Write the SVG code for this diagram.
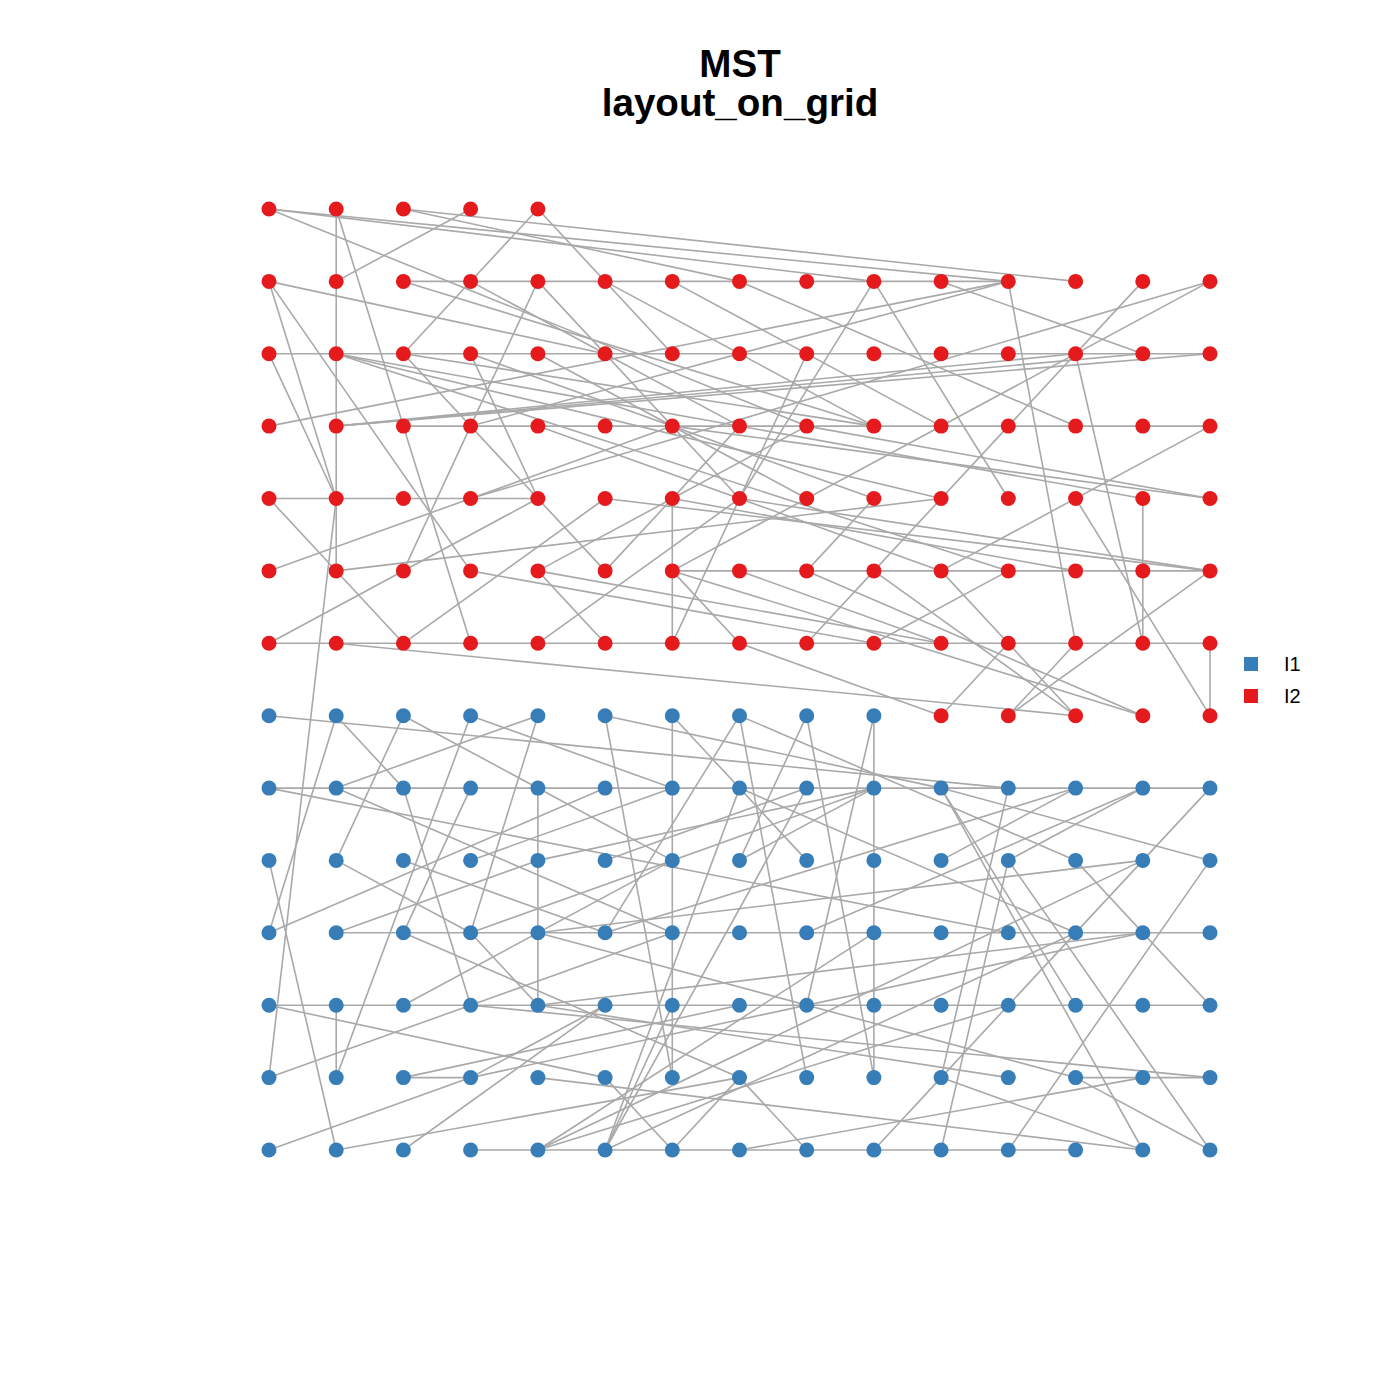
<svg xmlns="http://www.w3.org/2000/svg" width="1400" height="1400" viewBox="0 0 1400 1400">
<style>
.e line{stroke:#A9A9A9;stroke-width:1.6;fill:none}
.r{fill:#E41A1C}
.b{fill:#377EB8}
.t{font-family:"Liberation Sans",Arial,sans-serif;font-weight:bold;font-size:38.6px;text-anchor:middle;fill:#000}
.l{font-family:"Liberation Sans",Arial,sans-serif;font-size:20px;fill:#000}
</style>
<rect width="1400" height="1400" fill="#fff"/>
<text class="t" x="740" y="77">MST</text>
<text class="t" x="740" y="116">layout_on_grid</text>
<g class="e" id="edges">
<line x1="403.4" y1="281.4" x2="1008.3" y2="281.4"/>
<line x1="269" y1="353.8" x2="1210" y2="353.8"/>
<line x1="403.4" y1="426.1" x2="1210" y2="426.1"/>
<line x1="269" y1="498.5" x2="537.9" y2="498.5"/>
<line x1="672.3" y1="570.9" x2="1210" y2="570.9"/>
<line x1="269" y1="643.3" x2="1210" y2="643.3"/>
<line x1="269" y1="788.1" x2="1210" y2="788.1"/>
<line x1="336.2" y1="932.8" x2="1210" y2="932.8"/>
<line x1="269" y1="1005.2" x2="1210" y2="1005.2"/>
<line x1="470.6" y1="1150" x2="1075.6" y2="1150"/>
<line x1="403.4" y1="1077.6" x2="470.6" y2="1077.6"/>
<line x1="1075.6" y1="1077.6" x2="1210" y2="1077.6"/>
<line x1="269" y1="209" x2="873.9" y2="281.4"/>
<line x1="269" y1="209" x2="1008.3" y2="281.4"/>
<line x1="269" y1="209" x2="806.7" y2="426.1"/>
<line x1="403.4" y1="209" x2="1075.6" y2="281.4"/>
<line x1="403.4" y1="209" x2="739.5" y2="281.4"/>
<line x1="336.2" y1="209" x2="336.2" y2="570.9"/>
<line x1="336.2" y1="209" x2="470.6" y2="643.3"/>
<line x1="470.6" y1="209" x2="336.2" y2="281.4"/>
<line x1="537.9" y1="209" x2="403.4" y2="353.8"/>
<line x1="537.9" y1="209" x2="672.3" y2="353.8"/>
<line x1="269" y1="281.4" x2="336.2" y2="498.5"/>
<line x1="269" y1="281.4" x2="605.1" y2="353.8"/>
<line x1="269" y1="281.4" x2="470.6" y2="570.9"/>
<line x1="403.4" y1="281.4" x2="873.9" y2="426.1"/>
<line x1="470.6" y1="281.4" x2="739.5" y2="426.1"/>
<line x1="537.9" y1="281.4" x2="470.6" y2="426.1"/>
<line x1="537.9" y1="281.4" x2="739.5" y2="498.5"/>
<line x1="605.1" y1="281.4" x2="873.9" y2="426.1"/>
<line x1="672.3" y1="281.4" x2="941.1" y2="426.1"/>
<line x1="739.5" y1="281.4" x2="1075.6" y2="426.1"/>
<line x1="873.9" y1="281.4" x2="1008.3" y2="498.5"/>
<line x1="873.9" y1="281.4" x2="739.5" y2="498.5"/>
<line x1="941.1" y1="281.4" x2="1142.8" y2="353.8"/>
<line x1="1008.3" y1="281.4" x2="269" y2="426.1"/>
<line x1="1008.3" y1="281.4" x2="1075.6" y2="643.3"/>
<line x1="1075.6" y1="353.8" x2="1142.8" y2="643.3"/>
<line x1="1142.8" y1="281.4" x2="873.9" y2="570.9"/>
<line x1="1210" y1="281.4" x2="672.3" y2="570.9"/>
<line x1="1210" y1="281.4" x2="470.6" y2="498.5"/>
<line x1="269" y1="353.8" x2="336.2" y2="498.5"/>
<line x1="336.2" y1="426.1" x2="1075.6" y2="353.8"/>
<line x1="336.2" y1="426.1" x2="1142.8" y2="353.8"/>
<line x1="336.2" y1="426.1" x2="1210" y2="353.8"/>
<line x1="470.6" y1="426.1" x2="1008.3" y2="281.4"/>
<line x1="470.6" y1="426.1" x2="403.4" y2="570.9"/>
<line x1="269" y1="570.9" x2="672.3" y2="426.1"/>
<line x1="336.2" y1="570.9" x2="941.1" y2="498.5"/>
<line x1="269" y1="498.5" x2="403.4" y2="643.3"/>
<line x1="269" y1="643.3" x2="537.9" y2="498.5"/>
<line x1="403.4" y1="643.3" x2="605.1" y2="498.5"/>
<line x1="537.9" y1="643.3" x2="739.5" y2="498.5"/>
<line x1="470.6" y1="570.9" x2="873.9" y2="643.3"/>
<line x1="537.9" y1="570.9" x2="941.1" y2="643.3"/>
<line x1="537.9" y1="570.9" x2="806.7" y2="426.1"/>
<line x1="470.6" y1="353.8" x2="537.9" y2="498.5"/>
<line x1="403.4" y1="353.8" x2="605.1" y2="570.9"/>
<line x1="1210" y1="426.1" x2="941.1" y2="570.9"/>
<line x1="1075.6" y1="498.5" x2="1210" y2="715.7"/>
<line x1="1142.8" y1="498.5" x2="1142.8" y2="643.3"/>
<line x1="1210" y1="570.9" x2="1008.3" y2="715.7"/>
<line x1="1210" y1="643.3" x2="1210" y2="715.7"/>
<line x1="1008.3" y1="570.9" x2="873.9" y2="643.3"/>
<line x1="336.2" y1="643.3" x2="1075.6" y2="715.7"/>
<line x1="739.5" y1="643.3" x2="941.1" y2="715.7"/>
<line x1="941.1" y1="715.7" x2="1008.3" y2="643.3"/>
<line x1="1008.3" y1="643.3" x2="1075.6" y2="715.7"/>
<line x1="1075.6" y1="643.3" x2="1008.3" y2="715.7"/>
<line x1="873.9" y1="570.9" x2="1075.6" y2="715.7"/>
<line x1="672.3" y1="570.9" x2="1142.8" y2="715.7"/>
<line x1="806.7" y1="570.9" x2="1142.8" y2="715.7"/>
<line x1="672.3" y1="498.5" x2="672.3" y2="643.3"/>
<line x1="672.3" y1="570.9" x2="739.5" y2="643.3"/>
<line x1="672.3" y1="643.3" x2="806.7" y2="353.8"/>
<line x1="605.1" y1="570.9" x2="739.5" y2="426.1"/>
<line x1="537.9" y1="570.9" x2="605.1" y2="643.3"/>
<line x1="806.7" y1="643.3" x2="873.9" y2="570.9"/>
<line x1="739.5" y1="570.9" x2="941.1" y2="643.3"/>
<line x1="806.7" y1="570.9" x2="873.9" y2="498.5"/>
<line x1="941.1" y1="570.9" x2="1008.3" y2="643.3"/>
<line x1="672.3" y1="498.5" x2="1075.6" y2="570.9"/>
<line x1="739.5" y1="498.5" x2="1210" y2="570.9"/>
<line x1="605.1" y1="498.5" x2="1210" y2="570.9"/>
<line x1="672.3" y1="426.1" x2="1210" y2="498.5"/>
<line x1="806.7" y1="426.1" x2="1210" y2="498.5"/>
<line x1="336.2" y1="353.8" x2="1008.3" y2="570.9"/>
<line x1="336.2" y1="353.8" x2="941.1" y2="498.5"/>
<line x1="336.2" y1="353.8" x2="1142.8" y2="498.5"/>
<line x1="403.4" y1="353.8" x2="873.9" y2="426.1"/>
<line x1="470.6" y1="353.8" x2="873.9" y2="498.5"/>
<line x1="537.9" y1="353.8" x2="806.7" y2="498.5"/>
<line x1="537.9" y1="426.1" x2="941.1" y2="570.9"/>
<line x1="269" y1="715.7" x2="1008.3" y2="788.1"/>
<line x1="605.1" y1="715.7" x2="941.1" y2="788.1"/>
<line x1="336.2" y1="715.7" x2="269" y2="932.8"/>
<line x1="336.2" y1="715.7" x2="403.4" y2="788.1"/>
<line x1="403.4" y1="715.7" x2="336.2" y2="860.4"/>
<line x1="403.4" y1="715.7" x2="672.3" y2="860.4"/>
<line x1="470.6" y1="715.7" x2="336.2" y2="1077.6"/>
<line x1="470.6" y1="715.7" x2="672.3" y2="788.1"/>
<line x1="537.9" y1="715.7" x2="336.2" y2="788.1"/>
<line x1="537.9" y1="715.7" x2="470.6" y2="932.8"/>
<line x1="269" y1="788.1" x2="1008.3" y2="932.8"/>
<line x1="336.2" y1="788.1" x2="672.3" y2="932.8"/>
<line x1="403.4" y1="788.1" x2="470.6" y2="1005.2"/>
<line x1="470.6" y1="788.1" x2="403.4" y2="932.8"/>
<line x1="537.9" y1="788.1" x2="537.9" y2="1005.2"/>
<line x1="269" y1="860.4" x2="336.2" y2="1150"/>
<line x1="336.2" y1="860.4" x2="470.6" y2="932.8"/>
<line x1="403.4" y1="860.4" x2="605.1" y2="932.8"/>
<line x1="470.6" y1="860.4" x2="672.3" y2="788.1"/>
<line x1="537.9" y1="860.4" x2="873.9" y2="788.1"/>
<line x1="605.1" y1="715.7" x2="672.3" y2="1077.6"/>
<line x1="672.3" y1="715.7" x2="672.3" y2="1077.6"/>
<line x1="672.3" y1="715.7" x2="806.7" y2="860.4"/>
<line x1="739.5" y1="715.7" x2="605.1" y2="932.8"/>
<line x1="739.5" y1="715.7" x2="806.7" y2="1077.6"/>
<line x1="739.5" y1="715.7" x2="1075.6" y2="860.4"/>
<line x1="806.7" y1="715.7" x2="739.5" y2="860.4"/>
<line x1="806.7" y1="715.7" x2="873.9" y2="1077.6"/>
<line x1="873.9" y1="715.7" x2="873.9" y2="1077.6"/>
<line x1="873.9" y1="715.7" x2="806.7" y2="1005.2"/>
<line x1="806.7" y1="788.1" x2="605.1" y2="860.4"/>
<line x1="873.9" y1="788.1" x2="739.5" y2="860.4"/>
<line x1="873.9" y1="788.1" x2="470.6" y2="932.8"/>
<line x1="739.5" y1="788.1" x2="1075.6" y2="932.8"/>
<line x1="941.1" y1="788.1" x2="1210" y2="860.4"/>
<line x1="941.1" y1="788.1" x2="1075.6" y2="1005.2"/>
<line x1="941.1" y1="788.1" x2="1142.8" y2="1150"/>
<line x1="1008.3" y1="788.1" x2="941.1" y2="1077.6"/>
<line x1="1075.6" y1="788.1" x2="941.1" y2="860.4"/>
<line x1="1075.6" y1="788.1" x2="605.1" y2="932.8"/>
<line x1="1142.8" y1="788.1" x2="806.7" y2="932.8"/>
<line x1="1210" y1="788.1" x2="941.1" y2="1077.6"/>
<line x1="1008.3" y1="1150" x2="1210" y2="860.4"/>
<line x1="1008.3" y1="860.4" x2="941.1" y2="1150"/>
<line x1="1008.3" y1="860.4" x2="1142.8" y2="788.1"/>
<line x1="1008.3" y1="860.4" x2="1210" y2="1150"/>
<line x1="1075.6" y1="860.4" x2="1210" y2="1005.2"/>
<line x1="1142.8" y1="860.4" x2="537.9" y2="932.8"/>
<line x1="336.2" y1="932.8" x2="537.9" y2="860.4"/>
<line x1="269" y1="932.8" x2="605.1" y2="788.1"/>
<line x1="403.4" y1="932.8" x2="739.5" y2="1077.6"/>
<line x1="470.6" y1="932.8" x2="537.9" y2="1005.2"/>
<line x1="269" y1="1005.2" x2="605.1" y2="1077.6"/>
<line x1="336.2" y1="1005.2" x2="336.2" y2="1077.6"/>
<line x1="403.4" y1="1005.2" x2="672.3" y2="860.4"/>
<line x1="269" y1="1077.6" x2="470.6" y2="1005.2"/>
<line x1="470.6" y1="1005.2" x2="672.3" y2="932.8"/>
<line x1="403.4" y1="1077.6" x2="739.5" y2="1005.2"/>
<line x1="470.6" y1="1077.6" x2="605.1" y2="1005.2"/>
<line x1="269" y1="1150" x2="470.6" y2="1077.6"/>
<line x1="336.2" y1="1150" x2="739.5" y2="1077.6"/>
<line x1="403.4" y1="1150" x2="605.1" y2="1005.2"/>
<line x1="605.1" y1="1150" x2="672.3" y2="1005.2"/>
<line x1="605.1" y1="1077.6" x2="672.3" y2="1150"/>
<line x1="672.3" y1="1150" x2="739.5" y2="1077.6"/>
<line x1="739.5" y1="1077.6" x2="806.7" y2="1150"/>
<line x1="739.5" y1="1150" x2="1142.8" y2="1077.6"/>
<line x1="873.9" y1="1150" x2="941.1" y2="1077.6"/>
<line x1="941.1" y1="1077.6" x2="1142.8" y2="1150"/>
<line x1="1075.6" y1="1077.6" x2="1210" y2="1150"/>
<line x1="537.9" y1="932.8" x2="1075.6" y2="1077.6"/>
<line x1="537.9" y1="1077.6" x2="1142.8" y2="1150"/>
<line x1="470.6" y1="1005.2" x2="1210" y2="1077.6"/>
<line x1="537.9" y1="1005.2" x2="1142.8" y2="932.8"/>
<line x1="470.6" y1="1077.6" x2="1142.8" y2="932.8"/>
<line x1="336.2" y1="498.5" x2="269" y2="1077.6"/>
<line x1="537.9" y1="1150" x2="873.9" y2="932.8"/>
<line x1="537.9" y1="1150" x2="1008.3" y2="1005.2"/>
<line x1="537.9" y1="1150" x2="1142.8" y2="860.4"/>
<line x1="605.1" y1="1150" x2="806.7" y2="788.1"/>
<line x1="605.1" y1="1150" x2="739.5" y2="788.1"/>
<line x1="605.1" y1="1150" x2="1075.6" y2="932.8"/>
<line x1="1008.3" y1="1077.6" x2="537.9" y2="1005.2"/>
</g>
<g id="nodes">
<g id="n195"><circle class="r" cx="269" cy="209" r="7.5"/></g>
<g id="n196"><circle class="r" cx="336.2" cy="209" r="7.5"/></g>
<g id="n197"><circle class="r" cx="403.4" cy="209" r="7.5"/></g>
<g id="n198"><circle class="r" cx="470.6" cy="209" r="7.5"/></g>
<g id="n199"><circle class="r" cx="537.9" cy="209" r="7.5"/></g>
<g id="n180"><circle class="r" cx="269" cy="281.4" r="7.5"/></g>
<g id="n181"><circle class="r" cx="336.2" cy="281.4" r="7.5"/></g>
<g id="n182"><circle class="r" cx="403.4" cy="281.4" r="7.5"/></g>
<g id="n183"><circle class="r" cx="470.6" cy="281.4" r="7.5"/></g>
<g id="n184"><circle class="r" cx="537.9" cy="281.4" r="7.5"/></g>
<g id="n185"><circle class="r" cx="605.1" cy="281.4" r="7.5"/></g>
<g id="n186"><circle class="r" cx="672.3" cy="281.4" r="7.5"/></g>
<g id="n187"><circle class="r" cx="739.5" cy="281.4" r="7.5"/></g>
<g id="n188"><circle class="r" cx="806.7" cy="281.4" r="7.5"/></g>
<g id="n189"><circle class="r" cx="873.9" cy="281.4" r="7.5"/></g>
<g id="n190"><circle class="r" cx="941.1" cy="281.4" r="7.5"/></g>
<g id="n191"><circle class="r" cx="1008.3" cy="281.4" r="7.5"/></g>
<g id="n192"><circle class="r" cx="1075.6" cy="281.4" r="7.5"/></g>
<g id="n193"><circle class="r" cx="1142.8" cy="281.4" r="7.5"/></g>
<g id="n194"><circle class="r" cx="1210" cy="281.4" r="7.5"/></g>
<g id="n165"><circle class="r" cx="269" cy="353.8" r="7.5"/></g>
<g id="n166"><circle class="r" cx="336.2" cy="353.8" r="7.5"/></g>
<g id="n167"><circle class="r" cx="403.4" cy="353.8" r="7.5"/></g>
<g id="n168"><circle class="r" cx="470.6" cy="353.8" r="7.5"/></g>
<g id="n169"><circle class="r" cx="537.9" cy="353.8" r="7.5"/></g>
<g id="n170"><circle class="r" cx="605.1" cy="353.8" r="7.5"/></g>
<g id="n171"><circle class="r" cx="672.3" cy="353.8" r="7.5"/></g>
<g id="n172"><circle class="r" cx="739.5" cy="353.8" r="7.5"/></g>
<g id="n173"><circle class="r" cx="806.7" cy="353.8" r="7.5"/></g>
<g id="n174"><circle class="r" cx="873.9" cy="353.8" r="7.5"/></g>
<g id="n175"><circle class="r" cx="941.1" cy="353.8" r="7.5"/></g>
<g id="n176"><circle class="r" cx="1008.3" cy="353.8" r="7.5"/></g>
<g id="n177"><circle class="r" cx="1075.6" cy="353.8" r="7.5"/></g>
<g id="n178"><circle class="r" cx="1142.8" cy="353.8" r="7.5"/></g>
<g id="n179"><circle class="r" cx="1210" cy="353.8" r="7.5"/></g>
<g id="n150"><circle class="r" cx="269" cy="426.1" r="7.5"/></g>
<g id="n151"><circle class="r" cx="336.2" cy="426.1" r="7.5"/></g>
<g id="n152"><circle class="r" cx="403.4" cy="426.1" r="7.5"/></g>
<g id="n153"><circle class="r" cx="470.6" cy="426.1" r="7.5"/></g>
<g id="n154"><circle class="r" cx="537.9" cy="426.1" r="7.5"/></g>
<g id="n155"><circle class="r" cx="605.1" cy="426.1" r="7.5"/></g>
<g id="n156"><circle class="r" cx="672.3" cy="426.1" r="7.5"/></g>
<g id="n157"><circle class="r" cx="739.5" cy="426.1" r="7.5"/></g>
<g id="n158"><circle class="r" cx="806.7" cy="426.1" r="7.5"/></g>
<g id="n159"><circle class="r" cx="873.9" cy="426.1" r="7.5"/></g>
<g id="n160"><circle class="r" cx="941.1" cy="426.1" r="7.5"/></g>
<g id="n161"><circle class="r" cx="1008.3" cy="426.1" r="7.5"/></g>
<g id="n162"><circle class="r" cx="1075.6" cy="426.1" r="7.5"/></g>
<g id="n163"><circle class="r" cx="1142.8" cy="426.1" r="7.5"/></g>
<g id="n164"><circle class="r" cx="1210" cy="426.1" r="7.5"/></g>
<g id="n135"><circle class="r" cx="269" cy="498.5" r="7.5"/></g>
<g id="n136"><circle class="r" cx="336.2" cy="498.5" r="7.5"/></g>
<g id="n137"><circle class="r" cx="403.4" cy="498.5" r="7.5"/></g>
<g id="n138"><circle class="r" cx="470.6" cy="498.5" r="7.5"/></g>
<g id="n139"><circle class="r" cx="537.9" cy="498.5" r="7.5"/></g>
<g id="n140"><circle class="r" cx="605.1" cy="498.5" r="7.5"/></g>
<g id="n141"><circle class="r" cx="672.3" cy="498.5" r="7.5"/></g>
<g id="n142"><circle class="r" cx="739.5" cy="498.5" r="7.5"/></g>
<g id="n143"><circle class="r" cx="806.7" cy="498.5" r="7.5"/></g>
<g id="n144"><circle class="r" cx="873.9" cy="498.5" r="7.5"/></g>
<g id="n145"><circle class="r" cx="941.1" cy="498.5" r="7.5"/></g>
<g id="n146"><circle class="r" cx="1008.3" cy="498.5" r="7.5"/></g>
<g id="n147"><circle class="r" cx="1075.6" cy="498.5" r="7.5"/></g>
<g id="n148"><circle class="r" cx="1142.8" cy="498.5" r="7.5"/></g>
<g id="n149"><circle class="r" cx="1210" cy="498.5" r="7.5"/></g>
<g id="n120"><circle class="r" cx="269" cy="570.9" r="7.5"/></g>
<g id="n121"><circle class="r" cx="336.2" cy="570.9" r="7.5"/></g>
<g id="n122"><circle class="r" cx="403.4" cy="570.9" r="7.5"/></g>
<g id="n123"><circle class="r" cx="470.6" cy="570.9" r="7.5"/></g>
<g id="n124"><circle class="r" cx="537.9" cy="570.9" r="7.5"/></g>
<g id="n125"><circle class="r" cx="605.1" cy="570.9" r="7.5"/></g>
<g id="n126"><circle class="r" cx="672.3" cy="570.9" r="7.5"/></g>
<g id="n127"><circle class="r" cx="739.5" cy="570.9" r="7.5"/></g>
<g id="n128"><circle class="r" cx="806.7" cy="570.9" r="7.5"/></g>
<g id="n129"><circle class="r" cx="873.9" cy="570.9" r="7.5"/></g>
<g id="n130"><circle class="r" cx="941.1" cy="570.9" r="7.5"/></g>
<g id="n131"><circle class="r" cx="1008.3" cy="570.9" r="7.5"/></g>
<g id="n132"><circle class="r" cx="1075.6" cy="570.9" r="7.5"/></g>
<g id="n133"><circle class="r" cx="1142.8" cy="570.9" r="7.5"/></g>
<g id="n134"><circle class="r" cx="1210" cy="570.9" r="7.5"/></g>
<g id="n105"><circle class="r" cx="269" cy="643.3" r="7.5"/></g>
<g id="n106"><circle class="r" cx="336.2" cy="643.3" r="7.5"/></g>
<g id="n107"><circle class="r" cx="403.4" cy="643.3" r="7.5"/></g>
<g id="n108"><circle class="r" cx="470.6" cy="643.3" r="7.5"/></g>
<g id="n109"><circle class="r" cx="537.9" cy="643.3" r="7.5"/></g>
<g id="n110"><circle class="r" cx="605.1" cy="643.3" r="7.5"/></g>
<g id="n111"><circle class="r" cx="672.3" cy="643.3" r="7.5"/></g>
<g id="n112"><circle class="r" cx="739.5" cy="643.3" r="7.5"/></g>
<g id="n113"><circle class="r" cx="806.7" cy="643.3" r="7.5"/></g>
<g id="n114"><circle class="r" cx="873.9" cy="643.3" r="7.5"/></g>
<g id="n115"><circle class="r" cx="941.1" cy="643.3" r="7.5"/></g>
<g id="n116"><circle class="r" cx="1008.3" cy="643.3" r="7.5"/></g>
<g id="n117"><circle class="r" cx="1075.6" cy="643.3" r="7.5"/></g>
<g id="n118"><circle class="r" cx="1142.8" cy="643.3" r="7.5"/></g>
<g id="n119"><circle class="r" cx="1210" cy="643.3" r="7.5"/></g>
<g id="n90"><circle class="b" cx="269" cy="715.7" r="7.5"/></g>
<g id="n91"><circle class="b" cx="336.2" cy="715.7" r="7.5"/></g>
<g id="n92"><circle class="b" cx="403.4" cy="715.7" r="7.5"/></g>
<g id="n93"><circle class="b" cx="470.6" cy="715.7" r="7.5"/></g>
<g id="n94"><circle class="b" cx="537.9" cy="715.7" r="7.5"/></g>
<g id="n95"><circle class="b" cx="605.1" cy="715.7" r="7.5"/></g>
<g id="n96"><circle class="b" cx="672.3" cy="715.7" r="7.5"/></g>
<g id="n97"><circle class="b" cx="739.5" cy="715.7" r="7.5"/></g>
<g id="n98"><circle class="b" cx="806.7" cy="715.7" r="7.5"/></g>
<g id="n99"><circle class="b" cx="873.9" cy="715.7" r="7.5"/></g>
<g id="n100"><circle class="r" cx="941.1" cy="715.7" r="7.5"/></g>
<g id="n101"><circle class="r" cx="1008.3" cy="715.7" r="7.5"/></g>
<g id="n102"><circle class="r" cx="1075.6" cy="715.7" r="7.5"/></g>
<g id="n103"><circle class="r" cx="1142.8" cy="715.7" r="7.5"/></g>
<g id="n104"><circle class="r" cx="1210" cy="715.7" r="7.5"/></g>
<g id="n75"><circle class="b" cx="269" cy="788.1" r="7.5"/></g>
<g id="n76"><circle class="b" cx="336.2" cy="788.1" r="7.5"/></g>
<g id="n77"><circle class="b" cx="403.4" cy="788.1" r="7.5"/></g>
<g id="n78"><circle class="b" cx="470.6" cy="788.1" r="7.5"/></g>
<g id="n79"><circle class="b" cx="537.9" cy="788.1" r="7.5"/></g>
<g id="n80"><circle class="b" cx="605.1" cy="788.1" r="7.5"/></g>
<g id="n81"><circle class="b" cx="672.3" cy="788.1" r="7.5"/></g>
<g id="n82"><circle class="b" cx="739.5" cy="788.1" r="7.5"/></g>
<g id="n83"><circle class="b" cx="806.7" cy="788.1" r="7.5"/></g>
<g id="n84"><circle class="b" cx="873.9" cy="788.1" r="7.5"/></g>
<g id="n85"><circle class="b" cx="941.1" cy="788.1" r="7.5"/></g>
<g id="n86"><circle class="b" cx="1008.3" cy="788.1" r="7.5"/></g>
<g id="n87"><circle class="b" cx="1075.6" cy="788.1" r="7.5"/></g>
<g id="n88"><circle class="b" cx="1142.8" cy="788.1" r="7.5"/></g>
<g id="n89"><circle class="b" cx="1210" cy="788.1" r="7.5"/></g>
<g id="n60"><circle class="b" cx="269" cy="860.4" r="7.5"/></g>
<g id="n61"><circle class="b" cx="336.2" cy="860.4" r="7.5"/></g>
<g id="n62"><circle class="b" cx="403.4" cy="860.4" r="7.5"/></g>
<g id="n63"><circle class="b" cx="470.6" cy="860.4" r="7.5"/></g>
<g id="n64"><circle class="b" cx="537.9" cy="860.4" r="7.5"/></g>
<g id="n65"><circle class="b" cx="605.1" cy="860.4" r="7.5"/></g>
<g id="n66"><circle class="b" cx="672.3" cy="860.4" r="7.5"/></g>
<g id="n67"><circle class="b" cx="739.5" cy="860.4" r="7.5"/></g>
<g id="n68"><circle class="b" cx="806.7" cy="860.4" r="7.5"/></g>
<g id="n69"><circle class="b" cx="873.9" cy="860.4" r="7.5"/></g>
<g id="n70"><circle class="b" cx="941.1" cy="860.4" r="7.5"/></g>
<g id="n71"><circle class="b" cx="1008.3" cy="860.4" r="7.5"/></g>
<g id="n72"><circle class="b" cx="1075.6" cy="860.4" r="7.5"/></g>
<g id="n73"><circle class="b" cx="1142.8" cy="860.4" r="7.5"/></g>
<g id="n74"><circle class="b" cx="1210" cy="860.4" r="7.5"/></g>
<g id="n45"><circle class="b" cx="269" cy="932.8" r="7.5"/></g>
<g id="n46"><circle class="b" cx="336.2" cy="932.8" r="7.5"/></g>
<g id="n47"><circle class="b" cx="403.4" cy="932.8" r="7.5"/></g>
<g id="n48"><circle class="b" cx="470.6" cy="932.8" r="7.5"/></g>
<g id="n49"><circle class="b" cx="537.9" cy="932.8" r="7.5"/></g>
<g id="n50"><circle class="b" cx="605.1" cy="932.8" r="7.5"/></g>
<g id="n51"><circle class="b" cx="672.3" cy="932.8" r="7.5"/></g>
<g id="n52"><circle class="b" cx="739.5" cy="932.8" r="7.5"/></g>
<g id="n53"><circle class="b" cx="806.7" cy="932.8" r="7.5"/></g>
<g id="n54"><circle class="b" cx="873.9" cy="932.8" r="7.5"/></g>
<g id="n55"><circle class="b" cx="941.1" cy="932.8" r="7.5"/></g>
<g id="n56"><circle class="b" cx="1008.3" cy="932.8" r="7.5"/></g>
<g id="n57"><circle class="b" cx="1075.6" cy="932.8" r="7.5"/></g>
<g id="n58"><circle class="b" cx="1142.8" cy="932.8" r="7.5"/></g>
<g id="n59"><circle class="b" cx="1210" cy="932.8" r="7.5"/></g>
<g id="n30"><circle class="b" cx="269" cy="1005.2" r="7.5"/></g>
<g id="n31"><circle class="b" cx="336.2" cy="1005.2" r="7.5"/></g>
<g id="n32"><circle class="b" cx="403.4" cy="1005.2" r="7.5"/></g>
<g id="n33"><circle class="b" cx="470.6" cy="1005.2" r="7.5"/></g>
<g id="n34"><circle class="b" cx="537.9" cy="1005.2" r="7.5"/></g>
<g id="n35"><circle class="b" cx="605.1" cy="1005.2" r="7.5"/></g>
<g id="n36"><circle class="b" cx="672.3" cy="1005.2" r="7.5"/></g>
<g id="n37"><circle class="b" cx="739.5" cy="1005.2" r="7.5"/></g>
<g id="n38"><circle class="b" cx="806.7" cy="1005.2" r="7.5"/></g>
<g id="n39"><circle class="b" cx="873.9" cy="1005.2" r="7.5"/></g>
<g id="n40"><circle class="b" cx="941.1" cy="1005.2" r="7.5"/></g>
<g id="n41"><circle class="b" cx="1008.3" cy="1005.2" r="7.5"/></g>
<g id="n42"><circle class="b" cx="1075.6" cy="1005.2" r="7.5"/></g>
<g id="n43"><circle class="b" cx="1142.8" cy="1005.2" r="7.5"/></g>
<g id="n44"><circle class="b" cx="1210" cy="1005.2" r="7.5"/></g>
<g id="n15"><circle class="b" cx="269" cy="1077.6" r="7.5"/></g>
<g id="n16"><circle class="b" cx="336.2" cy="1077.6" r="7.5"/></g>
<g id="n17"><circle class="b" cx="403.4" cy="1077.6" r="7.5"/></g>
<g id="n18"><circle class="b" cx="470.6" cy="1077.6" r="7.5"/></g>
<g id="n19"><circle class="b" cx="537.9" cy="1077.6" r="7.5"/></g>
<g id="n20"><circle class="b" cx="605.1" cy="1077.6" r="7.5"/></g>
<g id="n21"><circle class="b" cx="672.3" cy="1077.6" r="7.5"/></g>
<g id="n22"><circle class="b" cx="739.5" cy="1077.6" r="7.5"/></g>
<g id="n23"><circle class="b" cx="806.7" cy="1077.6" r="7.5"/></g>
<g id="n24"><circle class="b" cx="873.9" cy="1077.6" r="7.5"/></g>
<g id="n25"><circle class="b" cx="941.1" cy="1077.6" r="7.5"/></g>
<g id="n26"><circle class="b" cx="1008.3" cy="1077.6" r="7.5"/></g>
<g id="n27"><circle class="b" cx="1075.6" cy="1077.6" r="7.5"/></g>
<g id="n28"><circle class="b" cx="1142.8" cy="1077.6" r="7.5"/></g>
<g id="n29"><circle class="b" cx="1210" cy="1077.6" r="7.5"/></g>
<g id="n0"><circle class="b" cx="269" cy="1150" r="7.5"/></g>
<g id="n1"><circle class="b" cx="336.2" cy="1150" r="7.5"/></g>
<g id="n2"><circle class="b" cx="403.4" cy="1150" r="7.5"/></g>
<g id="n3"><circle class="b" cx="470.6" cy="1150" r="7.5"/></g>
<g id="n4"><circle class="b" cx="537.9" cy="1150" r="7.5"/></g>
<g id="n5"><circle class="b" cx="605.1" cy="1150" r="7.5"/></g>
<g id="n6"><circle class="b" cx="672.3" cy="1150" r="7.5"/></g>
<g id="n7"><circle class="b" cx="739.5" cy="1150" r="7.5"/></g>
<g id="n8"><circle class="b" cx="806.7" cy="1150" r="7.5"/></g>
<g id="n9"><circle class="b" cx="873.9" cy="1150" r="7.5"/></g>
<g id="n10"><circle class="b" cx="941.1" cy="1150" r="7.5"/></g>
<g id="n11"><circle class="b" cx="1008.3" cy="1150" r="7.5"/></g>
<g id="n12"><circle class="b" cx="1075.6" cy="1150" r="7.5"/></g>
<g id="n13"><circle class="b" cx="1142.8" cy="1150" r="7.5"/></g>
<g id="n14"><circle class="b" cx="1210" cy="1150" r="7.5"/></g>
</g>
<g id="legend">
<rect class="b" x="1244" y="657" width="14" height="14"/>
<text class="l" x="1284" y="671">I1</text>
<rect class="r" x="1244" y="689" width="14" height="14"/>
<text class="l" x="1284" y="703">I2</text>
</g>
</svg>
